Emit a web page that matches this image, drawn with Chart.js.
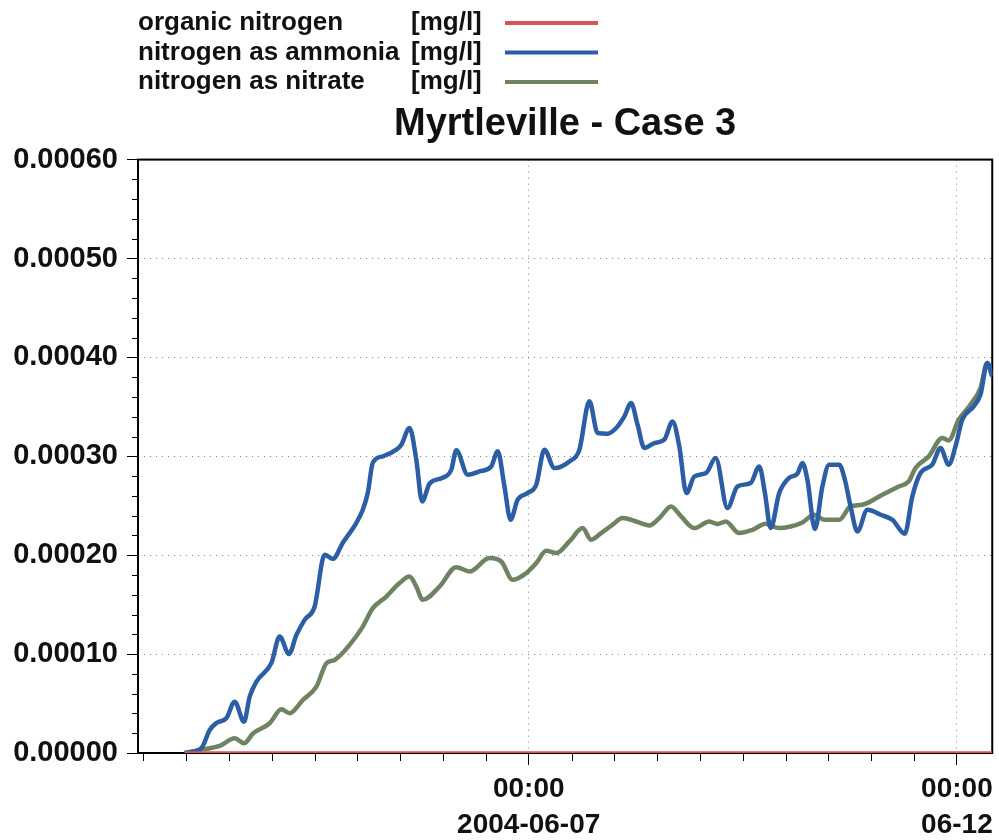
<!DOCTYPE html>
<html>
<head>
<meta charset="utf-8">
<script src="https://cdn.jsdelivr.net/npm/chart.js@4.4.1/dist/chart.umd.min.js"></script>
<style>
  html, body { margin: 0; padding: 0; background: #fff; }
  #wrap { width: 999px; height: 840px; }
</style>
</head>
<body>
<div id="wrap"><canvas id="chartCanvas" width="999" height="840"></canvas></div>
<script>
// --- data: x = hours since 2004-06-02 00:00, y = mg/l ---
const organicHours = [23.6, 249.9];
const organicValues = [0, 0];

const ammoniaHours = [23.6, 28.3, 30.6, 32.5, 35.3, 37.6, 40.2, 41.8, 43.7, 47.9, 50.2, 52.8, 54.9, 57.2, 60.0, 62.8, 65.1, 67.9, 71.7, 73.5, 74.9, 76.3, 79.1, 82.9, 84.3, 86.6, 88.5, 90.1, 92.2, 95.9, 98.3, 99.7, 102.9, 106.2, 109.5, 111.3, 113.2, 114.9, 116.9, 119.7, 122.1, 124.4, 127.2, 131.4, 134.2, 137.0, 139.3, 142.1, 144.5, 146.8, 148.7, 150.5, 152.4, 155.2, 158.0, 160.3, 162.2, 164.2, 166.4, 169.7, 172.4, 175.7, 178.5, 182.2, 184.6, 186.2, 187.8, 190.2, 193.0, 195.3, 196.7, 198.1, 200.2, 202.3, 204.2, 207.0, 208.6, 210.2, 212.1, 214.9, 218.6, 221.9, 225.4, 227.5, 229.8, 233.1, 235.4, 237.7, 239.6, 241.5, 244.7, 246.6, 248.5, 249.9];
const ammoniaValues = [0, 0.0000051, 0.0000233, 0.0000304, 0.0000354, 0.0000519, 0.0000317, 0.000057, 0.0000722, 0.0000911, 0.0001177, 0.0001002, 0.0001194, 0.0001346, 0.0001481, 0.0002004, 0.0001963, 0.0002125, 0.0002328, 0.0002459, 0.0002631, 0.0002935, 0.0002999, 0.0003067, 0.0003117, 0.0003286, 0.0002965, 0.0002543, 0.0002723, 0.0002783, 0.0002864, 0.000306, 0.0002814, 0.0002847, 0.0002898, 0.000305, 0.0002695, 0.0002358, 0.0002561, 0.0002628, 0.0002712, 0.0003067, 0.0002881, 0.0002948, 0.0003067, 0.0003556, 0.0003236, 0.0003229, 0.0003286, 0.0003404, 0.0003539, 0.000332, 0.0003084, 0.0003134, 0.0003168, 0.0003353, 0.00031, 0.0002628, 0.0002796, 0.0002831, 0.0002983, 0.0002477, 0.0002695, 0.000273, 0.0002898, 0.0002628, 0.0002274, 0.0002628, 0.0002783, 0.0002824, 0.0002932, 0.0002763, 0.0002264, 0.0002695, 0.0002915, 0.0002915, 0.0002763, 0.0002493, 0.000224, 0.0002459, 0.0002409, 0.0002358, 0.0002217, 0.0002594, 0.0002831, 0.0002915, 0.0003084, 0.0002915, 0.00031, 0.000337, 0.0003505, 0.0003623, 0.0003944, 0.0003809];

const nitrateHours = [23.6, 28.8, 33.4, 37.6, 40.2, 42.8, 47.4, 50.7, 53.0, 56.7, 60.5, 63.3, 65.6, 69.8, 73.5, 76.3, 80.1, 83.8, 86.6, 88.5, 90.3, 95.0, 99.7, 103.4, 109.0, 112.3, 115.5, 119.3, 122.1, 124.9, 127.7, 131.4, 135.1, 137.5, 140.3, 143.5, 146.3, 150.1, 153.8, 156.6, 159.9, 162.7, 166.4, 170.6, 172.9, 175.2, 179.0, 182.7, 186.4, 190.2, 193.4, 196.7, 200.0, 202.8, 207.0, 210.2, 213.5, 219.1, 223.7, 226.5, 228.4, 232.1, 235.9, 237.7, 240.5, 243.8, 246.6, 248.5, 249.9];
const nitrateValues = [0, 0.0000037, 0.0000071, 0.0000149, 0.0000098, 0.0000199, 0.0000301, 0.0000442, 0.0000402, 0.0000536, 0.0000671, 0.0000908, 0.0000941, 0.0001093, 0.0001278, 0.0001464, 0.0001582, 0.0001718, 0.0001784, 0.0001683, 0.0001549, 0.0001683, 0.0001879, 0.0001835, 0.0001971, 0.0001936, 0.0001751, 0.0001819, 0.000192, 0.0002044, 0.0002021, 0.0002139, 0.0002274, 0.0002156, 0.0002224, 0.0002308, 0.0002375, 0.0002341, 0.0002301, 0.0002375, 0.0002493, 0.0002392, 0.0002274, 0.0002341, 0.0002315, 0.0002341, 0.0002224, 0.0002257, 0.0002318, 0.0002274, 0.000229, 0.0002331, 0.0002409, 0.0002358, 0.0002358, 0.0002493, 0.000251, 0.0002611, 0.0002695, 0.0002746, 0.0002881, 0.0002999, 0.0003185, 0.0003161, 0.000337, 0.0003522, 0.0003691, 0.0003944, 0.0003809];

// --- ticks ---
const xMajorTicks = [120, 240];
const xTickLabels = [["00:00", "2004-06-07"], ["00:00", "06-12"]];
const xMinorTicks = [12, 24, 36, 48, 60, 72, 84, 96, 108, 132, 144, 156, 168, 180, 192, 204, 216, 228];
const yMajorTicks = [0, 0.0001, 0.0002, 0.0003, 0.0004, 0.0005, 0.0006];
const yMinorTicks = [0.00002, 0.00004, 0.00006, 0.00008, 0.00012, 0.00014, 0.00016, 0.00018,
  0.00022, 0.00024, 0.00026, 0.00028, 0.00032, 0.00034, 0.00036, 0.00038,
  0.00042, 0.00044, 0.00046, 0.00048, 0.00052, 0.00054, 0.00056, 0.00058];

const seriesNames = ["organic nitrogen", "nitrogen as ammonia", "nitrogen as nitrate"];
const seriesUnit = "[mg/l]";
const seriesColors = ["#d8525c", "#2c5ea6", "#6e8362"];

const FONT = '"Liberation Sans", Arial, sans-serif';

const toPoints = (xs, ys) => xs.map((x, i) => ({ x, y: ys[i] }));

// frame, minor ticks and the legend in the top-left corner
const framePlugin = {
  id: "frame",
  beforeDatasetsDraw(chart) {
    const { ctx, chartArea: a, scales } = chart;
    ctx.save();
    ctx.strokeStyle = "#000";
    ctx.lineWidth = 1;
    ctx.beginPath();
    yMinorTicks.forEach(v => {
      const py = Math.round(scales.y.getPixelForValue(v)) + 0.5;
      ctx.moveTo(a.left - 6, py); ctx.lineTo(a.left, py);
    });
    xMinorTicks.forEach(v => {
      const px = Math.round(scales.x.getPixelForValue(v)) + 0.5;
      ctx.moveTo(px, a.bottom); ctx.lineTo(px, a.bottom + 8);
    });
    ctx.stroke();
    ctx.lineWidth = 2;
    ctx.strokeRect(a.left, a.top, a.right - a.left, a.bottom - a.top);
    ctx.restore();
  },
  afterDraw(chart) {
    const ctx = chart.ctx;
    ctx.save();
    ctx.font = "bold 26px " + FONT;
    ctx.textBaseline = "middle";
    ctx.fillStyle = "#111";
    chart.data.datasets.forEach((ds, i) => {
      const y = 23 + i * 29.5;
      ctx.fillText(ds.label, 138, y);
      ctx.fillText(seriesUnit, 411, y);
      ctx.strokeStyle = ds.borderColor;
      ctx.lineWidth = 4;
      ctx.beginPath();
      ctx.moveTo(505, y); ctx.lineTo(598, y);
      ctx.stroke();
    });
    ctx.restore();
  }
};

const canvas = document.getElementById("chartCanvas");

new Chart(canvas, {
  type: "line",
  data: {
    datasets: [
      { label: seriesNames[0], data: toPoints(organicHours, organicValues), borderColor: seriesColors[0], borderWidth: 3.5 },
      { label: seriesNames[1], data: toPoints(ammoniaHours, ammoniaValues), borderColor: seriesColors[1], borderWidth: 4.5 },
      { label: seriesNames[2], data: toPoints(nitrateHours, nitrateValues), borderColor: seriesColors[2], borderWidth: 4.5 }
    ]
  },
  options: {
    responsive: false,
    animation: false,
    devicePixelRatio: 1,
    layout: { padding: { top: 88, right: 6, left: 0, bottom: 0 } },
    elements: {
      point: { radius: 0 },
      line: { cubicInterpolationMode: "monotone", fill: false }
    },
    plugins: {
      legend: { display: false },
      tooltip: { enabled: false },
      title: {
        display: true,
        fullSize: false,
        text: "Myrtleville - Case 3",
        color: "#111",
        font: { family: FONT, size: 38, weight: "bold" },
        padding: { top: 14, bottom: 12 }
      }
    },
    scales: {
      x: {
        type: "linear",
        min: 10.5,
        max: 249.9,
        afterBuildTicks: s => { s.ticks = xMajorTicks.map(v => ({ value: v })); },
        afterFit: s => { s.height = 87; },
        ticks: {
          autoSkip: false,
          maxRotation: 0,
          padding: 6,
          color: "#111",
          font: { family: FONT, size: 28, weight: "bold", lineHeight: 1.3 },
          callback: v => xTickLabels[xMajorTicks.indexOf(v)]
        },
        grid: { color: "rgba(100,100,100,0.8)", lineWidth: 1, tickLength: 12, tickColor: "#000" },
        border: { display: false, dash: [1, 5] }
      },
      y: {
        min: 0,
        max: 0.0006,
        afterBuildTicks: s => { s.ticks = yMajorTicks.map(v => ({ value: v })); },
        afterFit: s => { s.width = 138; },
        ticks: {
          padding: 9,
          color: "#111",
          font: { family: FONT, size: 29, weight: "bold" },
          callback: v => v.toFixed(5)
        },
        grid: { color: "rgba(100,100,100,0.8)", lineWidth: 1, tickLength: 11, tickColor: "#000" },
        border: { display: false, dash: [1, 5] }
      }
    }
  },
  plugins: [framePlugin]
});
</script>
</body>
</html>
